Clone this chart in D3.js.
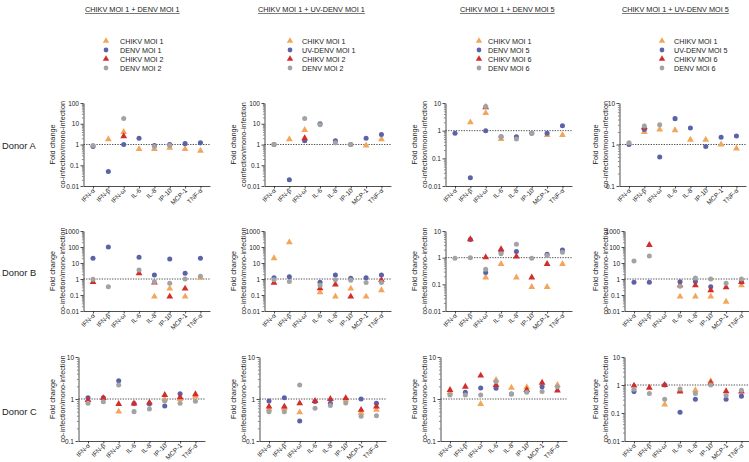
<!DOCTYPE html>
<html><head><meta charset="utf-8">
<script src="https://cdn.jsdelivr.net/npm/d3@7"></script>
<style>body{margin:0;background:#fff}svg{display:block;font-family:"Liberation Sans",Arial,sans-serif}</style>
</head><body><svg id="c" width="749" height="462"></svg>
<script>
const categories = ["IFN-α","IFN-β","IFN-ω","IL-6","IL-8","IP-10","MCP-1","TNF-α"];
const columnTitles = ["CHIKV MOI 1 + DENV MOI 1","CHIKV MOI 1 + UV-DENV MOI 1","CHIKV MOI 1 + DENV MOI 5","CHIKV MOI 1 + UV-DENV MOI 5"];
const legendCol1 = ["CHIKV MOI 1","DENV MOI 1","CHIKV MOI 2","DENV MOI 2"];
const legendCol2 = ["CHIKV MOI 1","UV-DENV MOI 1","CHIKV MOI 2","DENV MOI 2"];
const legendCol3 = ["CHIKV MOI 1","DENV MOI 5","CHIKV MOI 6","DENV MOI 6"];
const legendCol4 = ["CHIKV MOI 1","UV-DENV MOI 5","CHIKV MOI 6","DENV MOI 6"];
const donors = ["Donor A","Donor B","Donor C"];
const yTitle = "Fold change";
const ySubTitles = [
  ["co-infection/mono-infection","coinfection/mono-infection","co-infection/mono-infection","co-infection/mono-infection"],
  ["co-infection/mono-infection","co-infection/mono-infection","co-infection/mono-infection","co-infection/mono-infection"],
  ["co-infection/mono-infection","co-infection/mono-infection","co-infection/mono-infection","co-infection/mono-infection"]];
// y-axis domains [min,max] per row / column
const domainsA = [[0.01,100],[0.01,100],[0.01,10],[0.1,10]];
const domainsB = [[0.01,1000],[0.01,1000],[0.01,10],[0.01,1000]];
const domainsC = [[0.1,10],[0.1,10],[0.1,10],[0.01,10]];

// series order: CHIKV MOI 1 (orange), DENV (blue), CHIKV MOI 2/6 (red), DENV MOI 2/6 (gray)
// Donor A
const A1_chikv1 = [null,1.8,4,0.6,0.6,0.7,0.6,0.5];
const A1_denv   = [0.8,0.05,1,2,0.9,1,1.1,1.2];
const A1_chikv2 = [null,null,2.5,null,null,null,null,null];
const A1_denv2  = [0.9,null,18,null,0.8,0.9,null,null];
const A2_chikv1 = [null,1.8,5,null,null,null,0.9,1.8];
const A2_denv   = [1,0.02,1.5,10,1.5,1,2,3];
const A2_chikv2 = [null,null,2,null,null,null,null,null];
const A2_denv2  = [1,null,18,9,1.2,1,null,null];
const A3_chikv1 = [null,2,4.3,0.5,null,null,0.7,0.7];
const A3_denv   = [0.8,0.02,1,0.6,0.6,0.8,0.8,1.5];
const A3_chikv2 = [null,null,7,null,null,null,null,null];
const A3_denv2  = [null,null,7.5,0.6,0.5,0.8,null,null];
const A4_chikv1 = [null,2,2.3,2.2,1.3,1.3,1,0.8];
const A4_denv   = [1,2.3,0.5,4.2,2.5,0.9,1.5,1.6];
const A4_chikv2 = [null,2.6,null,null,null,null,null,null];
const A4_denv2  = [1.1,2.8,3,null,null,null,null,null];
// Donor B
const B1_chikv1 = [null,null,null,null,0.08,0.25,0.08,1.2];
const B1_denv   = [20,100,null,23,1.8,18,2.3,20];
const B1_chikv2 = [0.65,null,null,2.3,0.6,0.08,0.25,null];
const B1_denv2  = [0.95,0.33,null,3.7,0.68,0.55,1,1.5];
const B2_chikv1 = [20,200,null,0.15,0.08,0.25,0.08,0.2];
const B2_denv   = [1.2,1.4,null,0.62,1.8,1.1,1.2,1.8];
const B2_chikv2 = [0.59,null,null,0.26,0.45,0.08,null,0.85];
const B2_denv2  = [0.9,0.7,null,0.4,0.9,0.85,0.6,0.6];
const B3_chikv1 = [null,null,0.18,0.58,0.18,0.08,0.08,0.58];
const B3_denv   = [null,4.8,0.28,1.68,1.7,null,1.34,1.94];
const B3_chikv2 = [null,4.9,1.03,2.06,1.1,0.18,0.58,null];
const B3_denv2  = [0.95,1,0.37,1.4,3.2,0.95,1.2,1.6];
const B4_chikv1 = [null,null,null,0.08,0.08,0.08,0.038,0.4];
const B4_denv   = [0.62,0.62,null,0.67,0.7,0.33,null,0.65];
const B4_chikv2 = [null,133,null,0.4,0.4,0.2,0.3,0.65];
const B4_denv2  = [13.4,27,null,0.35,1.15,1,0.55,1];
// Donor C
const C1_chikv1 = [null,null,0.5,null,null,0.98,1,1.15];
const C1_denv   = [1.07,1.07,2.73,0.78,0.76,0.68,1.34,null];
const C1_chikv2 = [0.95,1.05,0.76,0.78,0.82,1.25,1.1,1.3];
const C1_denv2  = [0.79,0.86,2.15,0.5,0.58,0.9,0.79,0.88];
const C2_chikv1 = [0.58,0.6,0.48,null,null,0.97,0.47,0.55];
const C2_denv   = [0.9,1.07,0.3,0.87,0.79,null,1,0.79];
const C2_chikv2 = [0.66,0.66,0.79,0.9,1,1.05,0.55,0.66];
const C2_denv2  = [0.5,0.5,2.15,0.6,0.7,0.8,0.39,0.4];
const C3_chikv1 = [1.45,null,0.76,2.83,1.86,1.9,null,2.15];
const C3_denv   = [null,1.45,1.83,1.8,1.32,1.5,1.96,null];
const C3_chikv2 = [1.64,1.96,3.6,2.15,null,1.64,2.44,1.6];
const C3_denv2  = [1.25,1.25,1.25,2.6,1.32,1.45,1.5,1.96];
const C4_chikv1 = [null,null,0.2,0.65,0.65,1.38,null,null];
const C4_denv   = [0.58,null,1,0.106,0.31,null,0.31,0.4];
const C4_chikv2 = [0.95,0.8,1,0.58,null,1.2,0.6,0.58];
const C4_denv2  = [0.7,0.5,0.31,0.72,0.5,1,0.42,0.65];

const seriesColors = ["#f2a65a","#5b62a8","#d42b2b","#a3a3a3"];
const seriesShapes = ["triangle","circle","triangle","circle"];

const panelData = [
  [[A1_chikv1,A1_denv,A1_chikv2,A1_denv2],[A2_chikv1,A2_denv,A2_chikv2,A2_denv2],[A3_chikv1,A3_denv,A3_chikv2,A3_denv2],[A4_chikv1,A4_denv,A4_chikv2,A4_denv2]],
  [[B1_chikv1,B1_denv,B1_chikv2,B1_denv2],[B2_chikv1,B2_denv,B2_chikv2,B2_denv2],[B3_chikv1,B3_denv,B3_chikv2,B3_denv2],[B4_chikv1,B4_denv,B4_chikv2,B4_denv2]],
  [[C1_chikv1,C1_denv,C1_chikv2,C1_denv2],[C2_chikv1,C2_denv,C2_chikv2,C2_denv2],[C3_chikv1,C3_denv,C3_chikv2,C3_denv2],[C4_chikv1,C4_denv,C4_chikv2,C4_denv2]]];
const domains = [domainsA, domainsB, domainsC];
const legends = [legendCol1, legendCol2, legendCol3, legendCol4];

// layout
const colBase = [93, 274, 455, 634];
const step = 15.35;
const rowTop = [103, 231, 357];
const rowBottom = [186, 311, 441];
const yTitleX = [52, 233, 414, 595];
const titleX = [85, 258, 460, 622];
const legendX = [106, 290, 479, 662];
const legendGap = [14, 12, 9, 12];
const donorY = [146, 273, 412];

const svg = d3.select("#c");
const fontSm = 6.5;
const markSize = 20;

function sym(shape, size){
  return d3.symbol().type(shape === "triangle" ? d3.symbolTriangle : d3.symbolCircle).size(size)();
}

columnTitles.forEach((t,i)=>{
  const tx = svg.append("text").attr("x", titleX[i]).attr("y", 12).attr("font-size", 7.3).attr("fill","#222").text(t);
  const len = tx.node().getComputedTextLength();
  svg.append("line").attr("x1", titleX[i]).attr("x2", titleX[i]+len).attr("y1", 13.5).attr("y2", 13.5).attr("stroke","#222").attr("stroke-width",0.6);
});
legends.forEach((lab,i)=>{
  lab.forEach((l,j)=>{
    const y = 41 + j*9;
    svg.append("path").attr("d", sym(seriesShapes[j], 18)).attr("transform",`translate(${legendX[i]},${y})`).attr("fill", seriesColors[j]);
    svg.append("text").attr("x", legendX[i]+legendGap[i]).attr("y", y).attr("dy","0.35em").attr("font-size", 7.2).attr("fill","#222").text(l);
  });
});
donors.forEach((d,i)=>{
  svg.append("text").attr("x", 2).attr("y", donorY[i]).attr("dy","0.35em").attr("font-size", 9.3).attr("fill","#222").text(d);
});

const fmt = d => String(d);

for (let r=0;r<3;r++){
  for (let c=0;c<4;c++){
    const dom = domains[r][c];
    const widest = d3.max([dom[0], dom[1]], v => fmt(v).length);
    const shift = widest >= 4 ? 0 : -5;
    const base = colBase[c] + shift;
    const pad = 9.5;
    const x0 = base - pad, x1 = base + 7*step + pad;
    const x = d3.scalePoint().domain(categories).range([x0, x1]).padding(pad/step);
    const y = d3.scaleLog().domain(dom).range([rowBottom[r], rowTop[r]]);
    const g = svg.append("g");
    const decades = [];
    for (let e = Math.round(Math.log10(dom[0])); e <= Math.round(Math.log10(dom[1])); e++) decades.push(Math.pow(10,e));
    const minors = [];
    decades.slice(0,-1).forEach(d => { for (let k=2;k<10;k++) minors.push(d*k); });
    const yAxis = d3.axisLeft(y).tickValues(decades).tickFormat(v => v>=1 ? d3.format("d")(v) : d3.format("~g")(v)).tickSize(3).tickSizeOuter(0);
    const ya = g.append("g").attr("transform",`translate(${x0},0)`).call(yAxis);
    ya.selectAll("text").attr("font-size", fontSm).attr("fill","#222").attr("font-family","Liberation Sans, Arial, sans-serif").attr("x",-4.5);
    ya.selectAll("line,path").attr("stroke","#222").attr("stroke-width",0.8);
    const ym = d3.axisLeft(y).tickValues(minors).tickFormat("").tickSize(1.6).tickSizeOuter(0);
    g.append("g").attr("transform",`translate(${x0},0)`).call(ym).call(s=>s.select(".domain").remove()).selectAll("line").attr("stroke","#222").attr("stroke-width",0.5);
    const xAxis = d3.axisBottom(x).tickSize(2.5).tickSizeOuter(0);
    const xa = g.append("g").attr("transform",`translate(0,${rowBottom[r]})`).call(xAxis);
    xa.selectAll("line,path").attr("stroke","#222").attr("stroke-width",0.8);
    xa.selectAll("text").attr("font-size", fontSm).attr("fill","#222").attr("font-family","Liberation Sans, Arial, sans-serif")
      .attr("text-anchor","end").attr("dy",0).attr("y",0)
      .attr("transform","translate(2,5) rotate(-45)");
    g.append("line").attr("x1", x0).attr("x2", x1).attr("y1", y(1)).attr("y2", y(1))
      .attr("stroke","#222").attr("stroke-width",0.8).attr("stroke-dasharray","1.3,1.3");
    const cy = (rowTop[r]+rowBottom[r])/2;
    g.append("text").attr("transform",`translate(${yTitleX[c]},${cy}) rotate(-90)`).attr("text-anchor","middle").attr("dy","0.35em")
      .attr("font-size", 7.3).attr("fill","#222").text(yTitle);
    g.append("text").attr("transform",`translate(${yTitleX[c]+10},${cy}) rotate(-90)`).attr("text-anchor","middle").attr("dy","0.35em")
      .attr("font-size", 7.3).attr("fill","#222").text(ySubTitles[r][c]);
    panelData[r][c].forEach((vals, s) => {
      g.append("g").selectAll("path").data(vals.map((v,i)=>({v, cat: categories[i]})).filter(d => d.v != null))
        .join("path").attr("d", sym(seriesShapes[s], markSize))
        .attr("transform", d => `translate(${x(d.cat)},${y(d.v)})`)
        .attr("fill", seriesColors[s]);
    });
  }
}
</script></body></html>
